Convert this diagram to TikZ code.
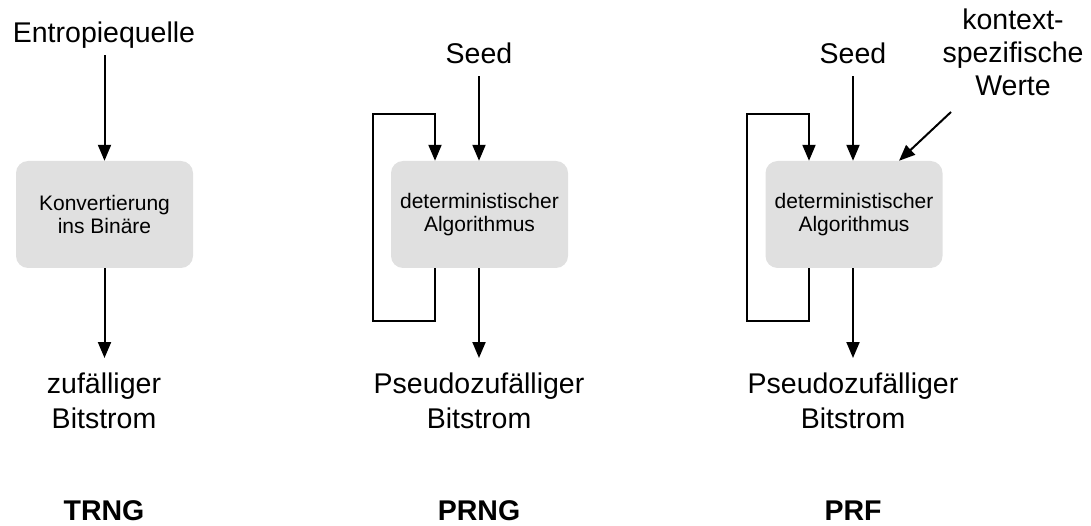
\documentclass[tikz,border=0pt]{standalone}
\usepackage{fontspec}
\setmainfont{Liberation Sans}
\usetikzlibrary{arrows.meta}
\definecolor{boxgray}{HTML}{E0E0E0}
\begin{document}
\begin{tikzpicture}[x=1pt,y=-1pt,
  lbl/.style={font=\fontsize{28.5}{34.5}\selectfont, inner sep=0pt, align=center, anchor=base},
  ttl/.style={font=\fontsize{28.5}{34}\selectfont\bfseries, inner sep=0pt, anchor=base},
  proc/.style={fill=boxgray, rounded corners=12pt, minimum width=177pt, minimum height=107pt,
    inner sep=0pt, align=center, font=\fontsize{21}{23}\selectfont},
  arr/.style={line width=2pt, -{Triangle[width=13pt,length=16pt]}},
  ln/.style={line width=2pt}]
\useasboundingbox (0,0) rectangle (1091,526);

% ---------- TRNG ----------
\node[lbl] (src1) at (104,43) {Entropiequelle};
\node[proc] (box1) at (104.5,214.5) {Konvertierung\\ins Binäre};
\node[lbl] (out1) at (104,428) {zufälliger\\Bitstrom};
\node[ttl] (t1) at (104,520) {TRNG};
\coordinate (tip1) at (104.5,358);
\draw[arr, shorten <=6pt] (src1.south -| box1.north) -- (box1.north);
\draw[arr] (box1.south) -- (tip1);

% ---------- PRNG ----------
\node[lbl] (seed2) at (479,64) {Seed};
\node[proc] (box2) at (479.5,214.5) {deterministischer\\Algorithmus};
\node[lbl] (out2) at (479,428) {Pseudozufälliger\\Bitstrom};
\node[ttl] (t2) at (479,520) {PRNG};
\coordinate (tip2) at (479,358);
\coordinate (lb2) at (373,321);
\coordinate (lt2) at (373,114);
\draw[arr, shorten <=12pt] (seed2.south) -- (seed2.south |- box2.north);
\draw[arr] (box2.south -| tip2) -- (tip2);
\draw[arr, line join=miter] ([xshift=-44.5pt]box2.south) |- (lb2) |- ([xshift=-44.5pt]box2.north |- lt2) -- ([xshift=-44.5pt]box2.north);

% ---------- PRF ----------
\node[lbl] (seed3) at (853,64) {Seed};
\node[lbl, font=\fontsize{28.5}{33}\selectfont] (ctx3) at (1013,96) {kontext-\\spezifische\\Werte};
\node[proc] (box3) at (854,214.5) {deterministischer\\Algorithmus};
\node[lbl] (out3) at (853,428) {Pseudozufälliger\\Bitstrom};
\node[ttl] (t3) at (853,520) {PRF};
\coordinate (tip3) at (853,358);
\coordinate (ctxs) at (951,112);
\coordinate (lb3) at (747,321);
\coordinate (lt3) at (747,114);
\draw[arr, shorten <=12pt] (seed3.south) -- (seed3.south |- box3.north);
\draw[arr] (box3.south -| tip3) -- (tip3);
\draw[arr] (ctxs) -- ([xshift=45pt]box3.north);
\draw[arr, line join=miter] ([xshift=-45pt]box3.south) |- (lb3) |- ([xshift=-45pt]box3.north |- lt3) -- ([xshift=-45pt]box3.north);
\end{tikzpicture}
\end{document}
